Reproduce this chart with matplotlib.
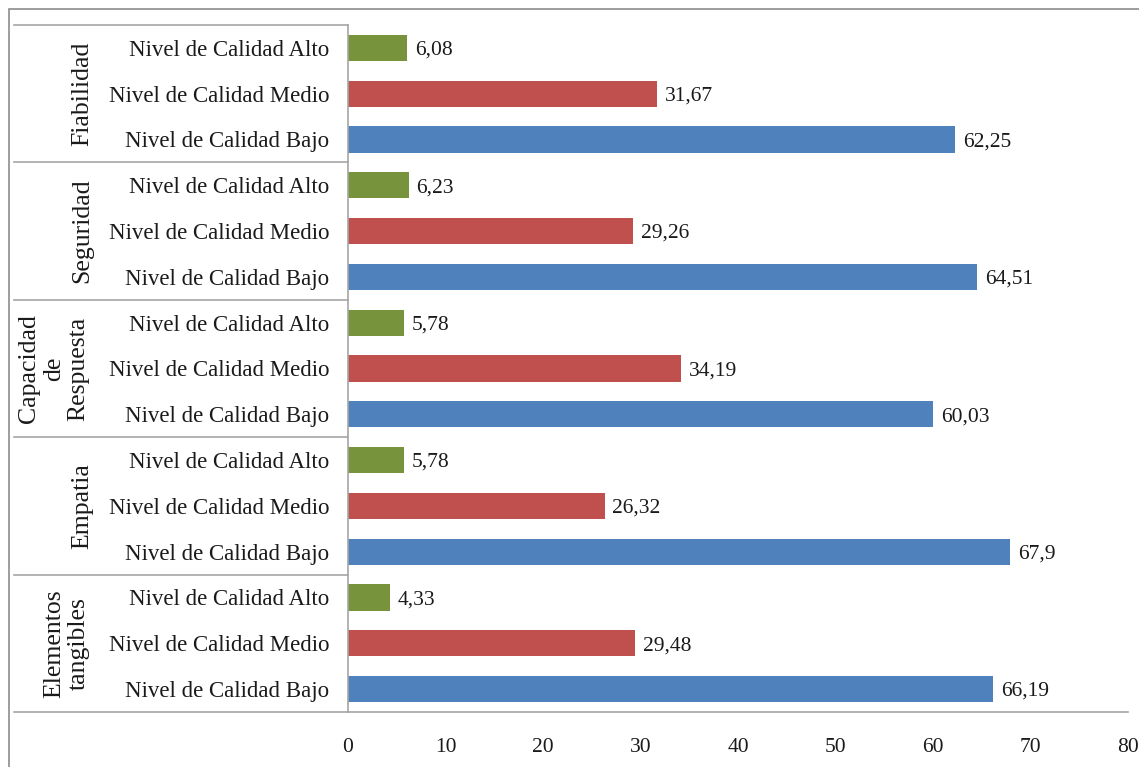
import matplotlib.pyplot as plt
from matplotlib.patches import Rectangle

# Data (groups from top to bottom, levels from top to bottom)
groups = ["Fiabilidad", "Seguridad", "Capacidad\nde\nRespuesta", "Empatia", "Elementos\ntangibles"]
levels = ["Nivel de Calidad Alto", "Nivel de Calidad Medio", "Nivel de Calidad Bajo"]
alto = [6.08, 6.23, 5.78, 5.78, 4.33]
medio = [31.67, 29.26, 34.19, 26.32, 29.48]
bajo = [62.25, 64.51, 60.03, 67.9, 66.19]
xticks = [0, 10, 20, 30, 40, 50, 60, 70, 80]

colors = {"Alto": "#77933C", "Medio": "#C0504D", "Bajo": "#4F81BD"}
grid_gray = "#A6A6A6"

plt.rcParams['font.family'] = ['Liberation Serif', 'DejaVu Serif']

W, H = 1139, 767
fig = plt.figure(figsize=(W / 100, H / 100), dpi=100)
ax = fig.add_axes([348 / W, 1 - 712 / H, (1128 - 348) / W, (712 - 25) / H])

# build rows, top to bottom
values, labels, cols = [], [], []
for i in range(len(groups)):
    for lev, v in zip(["Alto", "Medio", "Bajo"], [alto[i], medio[i], bajo[i]]):
        values.append(v)
        labels.append("Nivel de Calidad " + lev)
        cols.append(colors[lev])

n = len(values)
ypos = list(range(n))
ax.barh(ypos, values, height=0.57, color=cols)
ax.set_ylim(n - 0.5, -0.5)
ax.set_xlim(0, 80)

for y, v in zip(ypos, values):
    ax.text(v + 0.8, y + 0.05, f"{v:g}".replace(".", ","), va="center", ha="left",
            fontsize=15.5, color="#1a1a1a")

ax.set_yticks(ypos)
ax.set_yticklabels(labels, fontsize=16.5, color="#1a1a1a")
ax.set_xticks(xticks)
ax.set_xticklabels([str(t) for t in xticks], fontsize=15.5, color="#1a1a1a")
ax.tick_params(axis="y", length=0, pad=13.5)
ax.tick_params(axis="x", length=0, pad=18.5)

for s in ["top", "right"]:
    ax.spines[s].set_visible(False)
for s in ["left", "bottom"]:
    ax.spines[s].set_color(grid_gray)
    ax.spines[s].set_linewidth(1.2)

# group separators extending into the label area
xleft = (14 - 348) / (1128 - 348)
trans = ax.get_yaxis_transform()
for k in range(len(groups) + 1):
    yb = k * 3 - 0.5
    ax.plot([xleft, 0], [yb, yb], transform=trans, color=grid_gray,
            lw=1.2, clip_on=False)

# group labels
label_x = [82, 82, 54, 82, 67]
for i, g in enumerate(groups):
    xa = (label_x[i] - 348) / (1128 - 348)
    ax.text(xa, i * 3 + 1, g, transform=trans, rotation=90, ha="center",
            va="center", multialignment="center", fontsize=18.5,
            linespacing=1.15, color="#1a1a1a")

# outer chart border (only top and left visible)
fig.add_artist(Rectangle((9 / W, -0.1), 1.2, 1 - 9 / H + 0.1,
                         transform=fig.transFigure, fill=False,
                         edgecolor="#8C8C8C", lw=1.2))

fig.savefig("out.png", dpi=100)
